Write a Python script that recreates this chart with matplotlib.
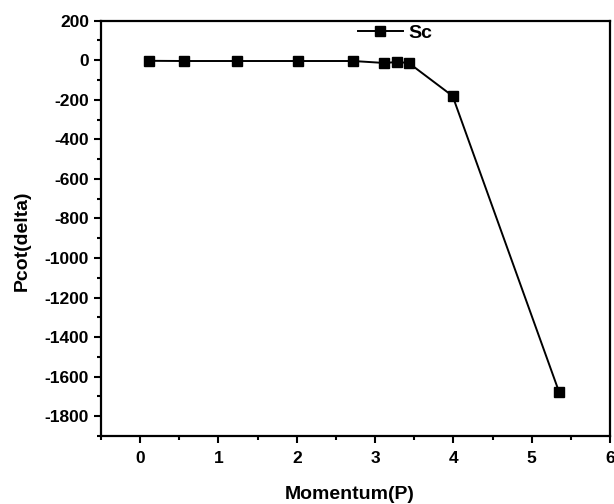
import matplotlib
matplotlib.use('Agg')
import matplotlib.pyplot as plt
from matplotlib.ticker import MultipleLocator

# valores
momentum = [0.11, 0.56, 1.24, 2.02, 2.72, 3.12, 3.28, 3.43, 3.99, 5.35]
pcot = [-3, -4, -4, -4, -4, -14, -9, -14, -181, -1678]

plt.rcParams['font.family'] = ['Liberation Sans', 'DejaVu Sans']
plt.rcParams['font.weight'] = 'bold'
plt.rcParams['axes.unicode_minus'] = False

fig = plt.figure(figsize=(6.14, 5.04), dpi=100)
ax = fig.add_axes([0.1645, 0.135, 0.829, 0.824])

ax.plot(momentum, pcot, color='black', lw=1.4, marker='s', markersize=7, label='Sc')

ax.set_xlim(-0.5, 6)
ax.set_ylim(-1900, 200)
ax.xaxis.set_major_locator(MultipleLocator(1))
ax.xaxis.set_minor_locator(MultipleLocator(0.5))
ax.yaxis.set_major_locator(MultipleLocator(200))
ax.yaxis.set_minor_locator(MultipleLocator(100))
ax.tick_params(which='major', direction='out', length=5, width=1.5, labelsize=12.5)
ax.tick_params(which='minor', direction='out', length=3, width=1.5)
ax.tick_params(axis='x', which='major', pad=6)
for lab in ax.get_xticklabels() + ax.get_yticklabels():
    lab.set_fontweight('bold')
for s in ax.spines.values():
    s.set_linewidth(1.6)

ax.set_xlabel('Momentum(P)', fontsize=14, fontweight='bold')
ax.set_ylabel('Pcot(delta)', fontsize=14, fontweight='bold')
ax.xaxis.set_label_coords(0.488, -0.12)
ax.yaxis.set_label_coords(-0.139, 0.47)

ax.legend(loc='center', bbox_to_anchor=(0.578, 0.97), frameon=False,
          fontsize=14, handlelength=2.3, handletextpad=0.3, borderpad=0)

fig.savefig('out.png', dpi=100)
